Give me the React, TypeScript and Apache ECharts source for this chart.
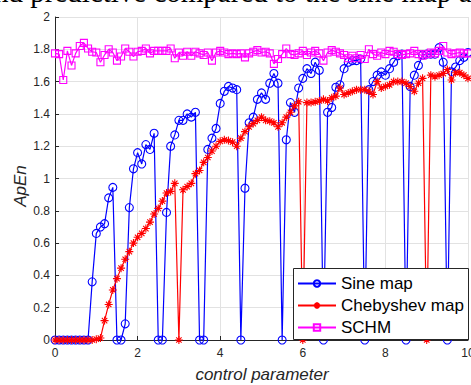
import React, { useEffect, useRef } from 'react';
import * as echarts from 'echarts';

const controlParams: number[] = Array.from({ length: 101 }, (_, i) => Number((i / 10).toFixed(1)));

const sineMap: number[] = [
  0, 0, 0, 0, 0, 0, 0, 0, 0,
  0.36, 0.66, 0.70, 0.72, 0.88, 0.945, 0, 0, 0.10, 0.82, 1.06,
  1.16, 1.09, 1.21, 1.18, 1.28, 0, 0, 0.79, 1.20, 1.27,
  1.36, 1.36, 1.40, 1.38, 1.41, 0, 0, 1.18, 1.25, 1.31,
  1.465, 1.54, 1.57, 1.56, 1.55, 0, 0.94, 1.345, 1.38, 1.49,
  1.53, 1.49, 1.59, 1.65, 1.59, 0, 1.24, 1.47, 1.41, 1.56,
  1.62, 1.68, 1.65, 1.72, 1.67, 0, 1.41, 1.44, 1.565, 1.58,
  1.68, 1.72, 1.73, 1.73, 1.74, 0, 1.55, 1.60, 1.64, 1.66,
  1.64, 1.68, 1.72, 1.76, 1.77, 0, 1.57, 1.64, 1.70, 1.765,
  1.77, 1.77, 1.77, 1.81, 1.72, 0, 1.66, 1.69, 1.73, 1.75,
  1.78,
];

const chebyshevMap: number[] = [
  0, 0, 0, 0, 0, 0, 0, 0, 0, 0,
  0.005, 0.012, 0.12, 0.22, 0.31, 0.38, 0.445, 0.50, 0.547, 0.60,
  0.636, 0.66, 0.69, 0.73, 0.78, 0.815, 0.86, 0.91, 0.92, 0.97,
  0, 0.93, 0.95, 0.97, 1.03, 1.05, 1.10, 1.13, 1.17, 1.20,
  1.23, 1.24, 1.235, 1.225, 1.20, 1.25, 1.29, 1.32, 1.34, 1.36,
  1.38, 1.36, 1.355, 1.345, 1.32, 1.345, 1.38, 1.41, 1.45, 1.475,
  0, 1.47, 1.47, 1.475, 1.48, 1.49, 1.48, 1.50, 1.51, 1.56,
  1.52, 1.53, 1.54, 1.55, 1.55, 1.55, 1.54, 1.52, 1.60, 1.56,
  1.57, 1.58, 1.60, 1.60, 1.60, 1.59, 1.57, 1.54, 1.59, 1.62,
  0, 1.64, 1.63, 1.64, 1.65, 1.675, 1.61, 1.655, 1.655, 1.64,
  1.62,
];

const schm: number[] = [
  1.775, 1.77, 1.61, 1.79, 1.70, 1.775, 1.82, 1.84, 1.805, 1.785,
  1.78, 1.72, 1.765, 1.80, 1.78, 1.73, 1.755, 1.805, 1.785, 1.755,
  1.785, 1.79, 1.805, 1.775, 1.79, 1.79, 1.79, 1.79, 1.805, 1.745,
  1.78, 1.76, 1.785, 1.76, 1.785, 1.775, 1.765, 1.78, 1.73, 1.78,
  1.79, 1.78, 1.77, 1.775, 1.77, 1.775, 1.75, 1.775, 1.785, 1.795,
  1.78, 1.785, 1.775, 1.71, 1.74, 1.77, 1.805, 1.77, 1.765, 1.775,
  1.79, 1.765, 1.78, 1.79, 1.775, 1.73, 1.78, 1.795, 1.785, 1.775,
  1.765, 1.745, 1.76, 1.745, 1.765, 1.74, 1.80, 1.77, 1.76, 1.78,
  1.77, 1.79, 1.785, 1.77, 1.765, 1.77, 1.775, 1.79, 1.77, 1.76,
  1.77, 1.78, 1.775, 1.79, 1.82, 1.78, 1.77, 1.775, 1.78, 1.775,
  1.775,
];

const seriesNames = ['Sine map', 'Chebyshev map', 'SCHM'];
const xTicks = { min: 0, max: 10, interval: 2 };
const yTicks = { min: 0, max: 2, interval: 0.2 };

const FONT = '"Liberation Sans", Arial, Helvetica, sans-serif';
const AXIS = '#262626';
const ASTERISK = 'path://M5,0L5,10M0,5L10,5M1.6,1.6L8.4,8.4M1.6,8.4L8.4,1.6';

const pairs = (ys: number[]) => ys.map((y, i) => [controlParams[i], y]);

export default function App() {
  const ref = useRef<HTMLDivElement>(null);
  useEffect(() => {
    if (!ref.current) return;
    const chart = echarts.init(ref.current, null, { renderer: 'svg' });
    chart.setOption({
      animation: false,
      backgroundColor: '#ffffff',
      grid: { left: 55, right: 3, top: 17, bottom: 45, containLabel: false, outerBoundsMode: 'none' },
      xAxis: {
        type: 'value',
        min: xTicks.min,
        max: xTicks.max,
        interval: xTicks.interval,
        axisLine: { show: true, lineStyle: { color: AXIS, width: 1 } },
        axisTick: { show: true, inside: true, length: 4, lineStyle: { color: AXIS } },
        axisLabel: { color: AXIS, fontSize: 12, fontFamily: FONT, margin: 7, showMaxLabel: true },
        splitLine: { show: true, lineStyle: { color: '#e2e2e2', width: 1 } },
      },
      yAxis: {
        type: 'value',
        min: yTicks.min,
        max: yTicks.max,
        interval: yTicks.interval,
        axisLine: { show: true, lineStyle: { color: AXIS, width: 1 } },
        axisTick: { show: true, inside: true, length: 4, lineStyle: { color: AXIS } },
        axisLabel: { color: AXIS, fontSize: 12, fontFamily: FONT, margin: 5 },
        splitLine: { show: true, lineStyle: { color: '#e2e2e2', width: 1 } },
      },
      legend: {
        data: seriesNames,
        orient: 'vertical',
        left: 297,
        top: 275,
        padding: 0,
        itemWidth: 38,
        itemHeight: 8,
        itemGap: 5,
        z: 10,
        textStyle: { fontSize: 17, fontFamily: FONT, color: '#000', lineHeight: 17 },
      },
      graphic: [
        {
          type: 'rect',
          z: 9,
          shape: { x: 293.5, y: 268.5, width: 175, height: 71 },
          style: { fill: '#ffffff', stroke: AXIS, lineWidth: 1 },
        },
        {
          type: 'text',
          x: 20,
          y: 186,
          rotation: Math.PI / 2,
          style: {
            text: 'ApEn',
            fontSize: 17,
            fontStyle: 'italic',
            fontFamily: FONT,
            fill: AXIS,
            align: 'center',
            verticalAlign: 'middle',
          },
        },
        {
          type: 'text',
          x: 262,
          y: 374,
          style: {
            text: 'control parameter',
            fontSize: 17,
            fontStyle: 'italic',
            fontFamily: FONT,
            fill: AXIS,
            align: 'center',
            verticalAlign: 'middle',
          },
        },
        {
          type: 'text',
          x: -6,
          y: -8,
          style: {
            text: 'nd predictive compared to the sine map a',
            fontSize: 29,
            fontFamily: '"Liberation Serif", "Times New Roman", serif',
            fill: '#000',
            align: 'left',
            verticalAlign: 'middle',
          },
        },
      ],
      series: [
        {
          name: seriesNames[0],
          type: 'line',
          data: pairs(sineMap),
          symbol: 'circle',
          symbolSize: 8,
          lineStyle: { color: '#0000ff', width: 1.2 },
          itemStyle: { color: 'rgba(0,0,0,0)', borderColor: '#0000ff', borderWidth: 1.1 },
          emphasis: { disabled: true },
          z: 2,
        },
        {
          name: seriesNames[1],
          type: 'line',
          data: pairs(chebyshevMap),
          symbol: ASTERISK,
          symbolSize: 8,
          lineStyle: { color: '#ff0000', width: 1.2 },
          itemStyle: { color: '#ff0000', borderColor: '#ff0000', borderWidth: 1.1 },
          emphasis: { disabled: true },
          z: 3,
        },
        {
          name: seriesNames[2],
          type: 'line',
          data: pairs(schm),
          symbol: 'rect',
          symbolSize: 7,
          lineStyle: { color: '#ff00ff', width: 1.2 },
          itemStyle: { color: 'rgba(0,0,0,0)', borderColor: '#ff00ff', borderWidth: 1.1 },
          emphasis: { disabled: true },
          z: 4,
        },
      ],
    });
    return () => chart.dispose();
  }, []);
  return (
    <div
      ref={ref}
      style={{ position: 'fixed', left: 0, top: 0, width: 471, height: 385, background: '#fff' }}
    />
  );
}
